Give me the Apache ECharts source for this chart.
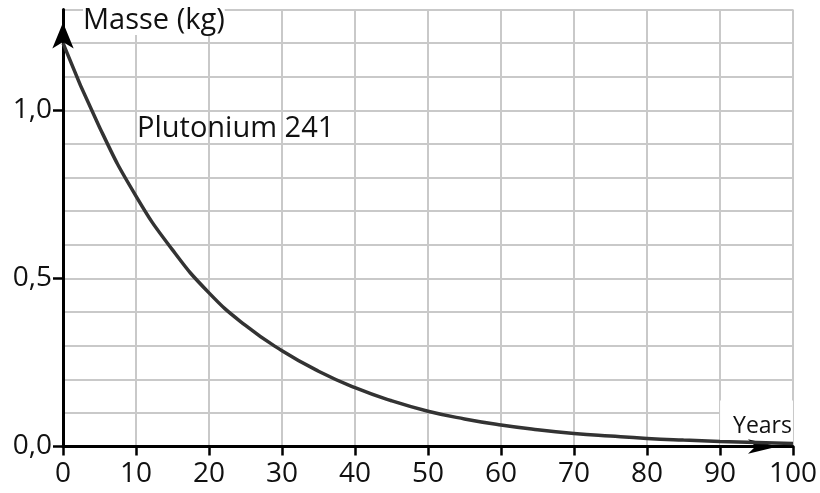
<!DOCTYPE html>
<html>
<head>
<meta charset="utf-8">
<script src="https://cdn.jsdelivr.net/npm/echarts@6/dist/echarts.min.js"></script>
<style>
  html, body { margin: 0; padding: 0; background: #fff; }
  #chart { width: 820px; height: 493px; }
</style>
</head>
<body>
<div id="chart"></div>
<script>
// Data
const years = [0, 5, 10, 15, 20, 25, 30, 35, 40, 45, 50, 55, 60, 65, 70, 75, 80, 85, 90, 95, 100];
const mass  = [1.20, 0.95, 0.745, 0.585, 0.457, 0.36, 0.285, 0.224, 0.175, 0.136, 0.105, 0.082, 0.064, 0.05, 0.039, 0.031, 0.024, 0.019, 0.015, 0.012, 0.009];
const yTickValues = [0, 0.5, 1.0];
const xTickValues = [0, 10, 20, 30, 40, 50, 60, 70, 80, 90, 100];
const yAxisTitle = 'Masse (kg)';
const xAxisTitle = 'Years';
const seriesLabel = 'Plutonium 241';

const FONT = '"Open Sans", "Noto Sans", sans-serif';
const GRID_COLOR = '#c9c9c9';
const chart = echarts.init(document.getElementById('chart'), null, { renderer: 'canvas' });

chart.setOption({
  animation: false,
  backgroundColor: '#ffffff',
  grid: { left: 63, right: 27, top: 9.5, bottom: 46.5, containLabel: false },
  xAxis: {
    type: 'value',
    min: 0, max: 100, interval: 10,
    name: xAxisTitle,
    nameLocation: 'end',
    nameGap: 0,
    nameTextStyle: {
      fontFamily: FONT, fontSize: 23, color: '#111',
      align: 'right', verticalAlign: 'bottom',
      backgroundColor: '#ffffff',
      padding: [14, 1, 9, 13]
    },
    axisLine: {
      show: true, onZero: false,
      lineStyle: { color: '#000', width: 3 },
      symbol: ['none', 'arrow'],
      symbolSize: [11, 30],
      symbolOffset: [0, -15]
    },
    axisTick: { show: true, length: 9, lineStyle: { color: '#000', width: 2.5 } },
    axisLabel: {
      show: true, margin: 14,
      fontFamily: FONT, fontSize: 28, color: '#111',
      formatter: v => String(v)
    },
    splitLine: { show: true, lineStyle: { color: GRID_COLOR, width: 2 } }
  },
  yAxis: [
    {
      type: 'value',
      min: 0, max: 1.3, interval: 0.1,
      axisLine: {
        show: true, onZero: false,
        lineStyle: { color: '#000', width: 3 },
        symbol: ['none', 'arrow'],
        symbolSize: [16, 26],
        symbolOffset: [0, -13]
      },
      axisTick: { show: true, customValues: yTickValues, length: 10, lineStyle: { color: '#000', width: 2.5 } },
      axisLabel: {
        show: true, customValues: yTickValues, margin: 11,
        fontFamily: FONT, fontSize: 28, color: '#111',
        formatter: v => v.toFixed(1).replace('.', ',')
      },
      splitLine: { show: false },
      z: 3
    },
    {
      type: 'value',
      min: 0, max: 1.3, interval: 0.1,
      position: 'left',
      axisLine: { show: false },
      axisTick: { show: false },
      axisLabel: { show: false },
      splitLine: { show: true, lineStyle: { color: GRID_COLOR, width: 2 } },
      z: 0
    }
  ],
  graphic: [
    {
      type: 'text', left: 83, top: 6, z: 100,
      style: { text: yAxisTitle, fontFamily: FONT, fontSize: 29, fill: '#111', backgroundColor: '#fff' }
    },
    {
      type: 'text', left: 137, top: 114, z: 100,
      style: { text: seriesLabel, fontFamily: FONT, fontSize: 29, fill: '#111' }
    }
  ],
  series: [{
    type: 'line',
    yAxisIndex: 0,
    data: years.map((x, i) => [x, mass[i]]),
    smooth: 0.5,
    showSymbol: false,
    symbol: 'none',
    lineStyle: { color: '#333333', width: 3.5 },
    z: 5
  }]
});
</script>
</body>
</html>
